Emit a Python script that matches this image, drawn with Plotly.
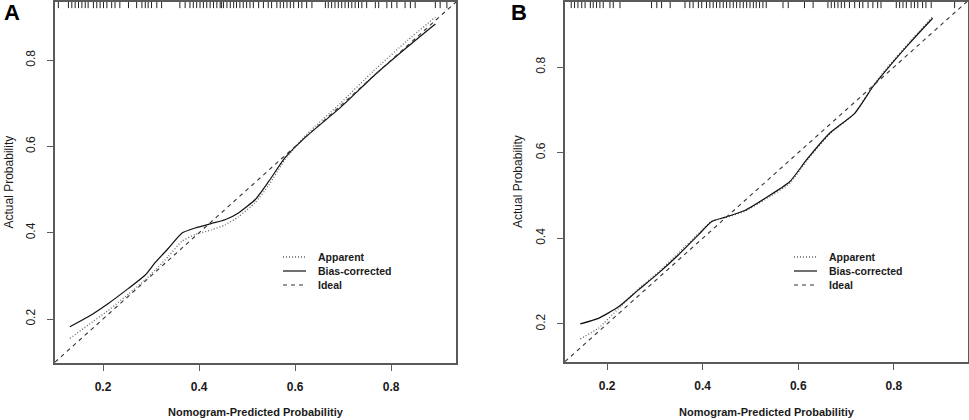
"""
Nomogram calibration curves (panels A and B) drawn with Plotly.
"""

import plotly.graph_objects as go

# ---- panel A values ----
A_X = [0.131, 0.169, 0.211, 0.253, 0.288, 0.308, 0.336, 0.364, 0.392, 0.427,
       0.454, 0.482, 0.517, 0.545, 0.579, 0.624, 0.694, 0.763, 0.833, 0.892]
A_BIAS = [0.182, 0.205, 0.236, 0.271, 0.302, 0.330, 0.364, 0.399, 0.411, 0.422,
          0.430, 0.446, 0.477, 0.519, 0.574, 0.624, 0.690, 0.763, 0.830, 0.884]
A_APPARENT = [0.155, 0.186, 0.220, 0.258, 0.291, 0.313, 0.345, 0.380, 0.396, 0.407,
              0.418, 0.437, 0.470, 0.510, 0.570, 0.628, 0.700, 0.775, 0.845, 0.900]
A_IDEAL = [0.10, 0.935]
A_RUG = [0.107, 0.128, 0.135, 0.142, 0.149, 0.156, 0.163, 0.169, 0.180, 0.187,
         0.194, 0.201, 0.208, 0.218, 0.225, 0.235, 0.253, 0.270, 0.281, 0.288,
         0.294, 0.301, 0.312, 0.322, 0.360, 0.371, 0.381, 0.388, 0.395, 0.402,
         0.409, 0.416, 0.423, 0.430, 0.437, 0.444, 0.447, 0.451, 0.458, 0.465,
         0.472, 0.478, 0.485, 0.492, 0.499, 0.506, 0.513, 0.524, 0.534, 0.544,
         0.551, 0.562, 0.569, 0.576, 0.583, 0.590, 0.597, 0.607, 0.614, 0.624,
         0.635, 0.663, 0.669, 0.676, 0.683, 0.690, 0.697, 0.704, 0.711, 0.718,
         0.725, 0.732, 0.739, 0.749, 0.767, 0.774, 0.791, 0.801, 0.812, 0.829,
         0.840, 0.850, 0.892, 0.902, 0.916]

# ---- panel B values ----
B_X = [0.144, 0.182, 0.224, 0.265, 0.307, 0.349, 0.391, 0.419, 0.446, 0.488,
       0.530, 0.582, 0.617, 0.666, 0.718, 0.756, 0.784, 0.833, 0.881]
B_BIAS = [0.200, 0.213, 0.240, 0.279, 0.318, 0.361, 0.408, 0.439, 0.449, 0.465,
          0.493, 0.532, 0.583, 0.646, 0.692, 0.754, 0.793, 0.856, 0.914]
B_APPARENT = [0.165, 0.190, 0.236, 0.281, 0.321, 0.365, 0.411, 0.440, 0.448, 0.463,
              0.490, 0.528, 0.580, 0.644, 0.692, 0.756, 0.796, 0.859, 0.918]
B_IDEAL = [0.112, 0.953]
B_RUG = [0.125, 0.132, 0.139, 0.147, 0.154, 0.165, 0.171, 0.178, 0.185, 0.192,
         0.206, 0.213, 0.227, 0.293, 0.304, 0.314, 0.332, 0.363, 0.373, 0.380,
         0.391, 0.398, 0.408, 0.415, 0.422, 0.429, 0.436, 0.443, 0.450, 0.457,
         0.464, 0.471, 0.478, 0.485, 0.492, 0.499, 0.506, 0.512, 0.519, 0.526,
         0.533, 0.568, 0.579, 0.613, 0.631, 0.662, 0.669, 0.676, 0.683, 0.690,
         0.697, 0.707, 0.718, 0.728, 0.735, 0.746, 0.756, 0.766, 0.773, 0.805,
         0.812, 0.819, 0.826, 0.836, 0.843, 0.850, 0.860, 0.867, 0.878, 0.927]

TICKS = [0.2, 0.4, 0.6, 0.8]
SERIES_NAMES = ["Apparent", "Bias-corrected", "Ideal"]
X_TITLE = "Nomogram-Predicted Probabilitiy"
Y_TITLE = "Actual Probability"

FONT = "Liberation Sans, Arial, sans-serif"
INK = "#1a1a1a"
AXIS_GREY = "#5a5a5a"
RUG_FRAC = 0.017  # rug tick length as a fraction of the y span

# line styles: apparent, bias-corrected, ideal
STYLES = [
    dict(color="#666666", width=1.3, dash="1px,2px"),
    dict(color="#111111", width=1.2),
    dict(color="#333333", width=1.1, dash="4px,4px"),
]

W, H = 969, 420
PANELS = [
    dict(letter="A", x=A_X, bias=A_BIAS, app=A_APPARENT, ideal=A_IDEAL, rug=A_RUG,
         xr=[0.100, 0.935], yr=[0.098, 0.935], px=(55, 456), py=(2, 363),
         leg_x=283, letter_x=12, ytitle_x=8),
    dict(letter="B", x=B_X, bias=B_BIAS, app=B_APPARENT, ideal=B_IDEAL, rug=B_RUG,
         xr=[0.112, 0.955], yr=[0.111, 0.952], px=(565, 968), py=(2, 362),
         leg_x=794, letter_x=519, ytitle_x=518),
]
LEGEND_ROWS = (257, 271, 285)  # pixel rows of the in-plot key
LEGEND_SAMPLE = 23
LEGEND_TEXT_GAP = 10


def rug_segments(values, top, length):
    xs, ys = [], []
    for v in values:
        xs.extend((v, v, None))
        ys.extend((top, top - length, None))
    return xs, ys


fig = go.Figure()
annotations = []
shapes = []
layout_axes = {}

for n, p in enumerate(PANELS, start=1):
    xa = "x" if n == 1 else f"x{n}"
    ya = "y" if n == 1 else f"y{n}"

    for name, xs, ys, style in (
        (SERIES_NAMES[0], p["x"], p["app"], STYLES[0]),
        (SERIES_NAMES[1], p["x"], p["bias"], STYLES[1]),
        (SERIES_NAMES[2], p["ideal"], p["ideal"], STYLES[2]),
    ):
        fig.add_trace(go.Scatter(
            x=xs, y=ys, mode="lines", name=name,
            line=dict(style, shape="spline", smoothing=0.5),
            xaxis=xa, yaxis=ya, showlegend=False,
        ))

    rx, ry = rug_segments(p["rug"], p["yr"][1], (p["yr"][1] - p["yr"][0]) * RUG_FRAC)
    fig.add_trace(go.Scatter(
        x=rx, y=ry, mode="lines", line=dict(color="#222222", width=1),
        showlegend=False, hoverinfo="skip", xaxis=xa, yaxis=ya,
    ))

    x0, x1 = p["px"][0] / W, p["px"][1] / W
    y0, y1 = 1 - p["py"][1] / H, 1 - p["py"][0] / H
    common = dict(
        showgrid=False, zeroline=False, showline=True, mirror=True,
        linecolor=AXIS_GREY, linewidth=1.5, ticks="outside", ticklen=6,
        tickwidth=1.2, tickcolor=AXIS_GREY, tickvals=TICKS,
        ticktext=[f"{t:.1f}" for t in TICKS],
    )
    layout_axes["xaxis" if n == 1 else f"xaxis{n}"] = dict(
        common, domain=[x0, x1], range=p["xr"], anchor=ya, ticklabelstandoff=6,
        tickfont=dict(family=FONT, size=12, color=INK, weight="bold"),
    )
    layout_axes["yaxis" if n == 1 else f"yaxis{n}"] = dict(
        common, domain=[y0, y1], range=p["yr"], anchor=xa, tickangle=-90,
        ticklabelstandoff=7,
        tickfont=dict(family=FONT, size=12, color=INK),
    )

    mid_x = (p["px"][0] + p["px"][1]) / 2 / W
    mid_y = 1 - (p["py"][0] + p["py"][1]) / 2 / H
    annotations += [
        dict(text=X_TITLE, x=mid_x, y=1 - 412 / H, xref="paper", yref="paper",
             xanchor="center", yanchor="middle", showarrow=False,
             font=dict(family=FONT, size=11, color=INK, weight="bold")),
        dict(text=Y_TITLE, x=p["ytitle_x"] / W, y=mid_y, xref="paper", yref="paper",
             xanchor="center", yanchor="middle", textangle=-90, showarrow=False,
             font=dict(family=FONT, size=12, color=INK)),
        dict(text=p["letter"], x=p["letter_x"] / W, y=1 - 12 / H, xref="paper",
             yref="paper", xanchor="center", yanchor="middle", showarrow=False,
             font=dict(family=FONT, size=22, color="#000000", weight="bold")),
    ]

    # in-plot key, drawn like R's legend(): short line sample then label
    for name, style, row in zip(SERIES_NAMES, STYLES, LEGEND_ROWS):
        ly = 1 - row / H
        shapes.append(dict(
            type="line", xref="paper", yref="paper",
            x0=p["leg_x"] / W, x1=(p["leg_x"] + LEGEND_SAMPLE) / W, y0=ly, y1=ly,
            line=style,
        ))
        annotations.append(dict(
            text=name, x=(p["leg_x"] + LEGEND_SAMPLE + LEGEND_TEXT_GAP) / W, y=ly,
            xref="paper", yref="paper", xanchor="left", yanchor="middle",
            showarrow=False,
            font=dict(family=FONT, size=10.5, color=INK, weight="bold"),
        ))

fig.update_layout(
    width=W, height=H,
    margin=dict(l=0, r=0, t=0, b=0),
    paper_bgcolor="white", plot_bgcolor="white",
    showlegend=False,
    annotations=annotations,
    shapes=shapes,
    **layout_axes,
)

# drop the browser's default 8px body margin so the figure sits at the page origin
fig.write_html(
    "out.html",
    config=dict(displayModeBar=False),
    post_script="document.body.style.margin = '0';",
)
